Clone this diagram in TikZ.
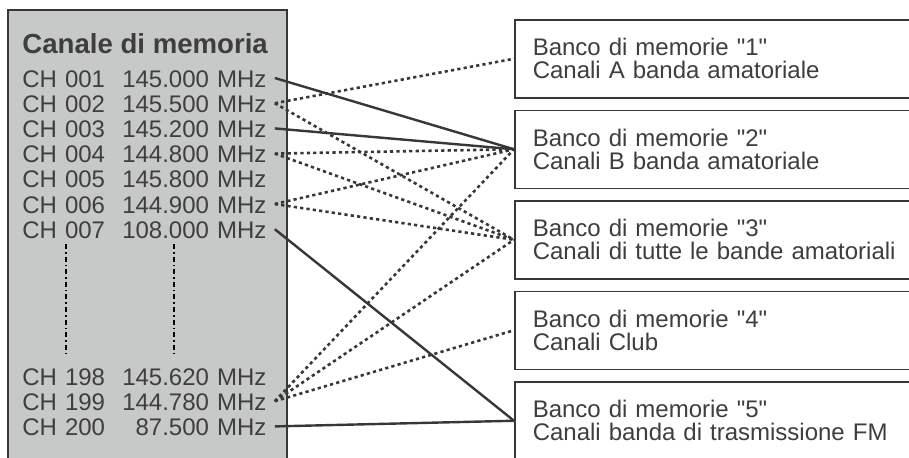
\documentclass[tikz,border=0pt]{standalone}
\usepackage{fontspec}
\setmainfont{Liberation Sans}[Ligatures=TeXOff]
\usepackage{tikz}
\usetikzlibrary{positioning}
\definecolor{mmgray}{RGB}{199,200,200}
\definecolor{mmtext}{RGB}{62,62,62}
\definecolor{mmline}{RGB}{55,55,55}
\tikzstyle{panel} = [draw=mmline, fill=mmgray, line width=1pt]
\tikzstyle{paneltitle} = [inner sep=0pt, text=mmtext, font=\fontsize{13.8}{14}\selectfont\bfseries]
\tikzstyle{chrow} = [rectangle, inner xsep=4pt, inner ysep=0pt, text width=122pt, text height=9pt, text depth=0pt, text=mmtext, font=\fontsize{12}{12}\selectfont]
\tikzstyle{bankbox} = [rectangle, draw=mmline, fill=white, line width=0.75pt, minimum height=39pt, text width=192pt, inner xsep=9pt, align=left, text=mmtext, font=\fontsize{12}{11.5}\selectfont]
\tikzstyle{solidlink} = [line width=1.2pt, color=mmline]
\tikzstyle{dotlink} = [line width=1.3pt, dash pattern=on 1.6pt off 1.6pt, color=mmline]
\tikzstyle{vdash} = [line width=1pt, dash pattern=on 2.5pt off 1.5pt on 0.8pt off 1.5pt, color=black]

\begin{document}
\begin{tikzpicture}[x=0.5pt, y=-0.5pt]
\useasboundingbox (0,0) rectangle (909,457);
\clip (0,0) rectangle (909,457);

% Memory channel panel
\draw[panel] (8,10) rectangle (287,470);
\node[paneltitle, anchor=base west] (title) at (22,53) {Canale di memoria};

% Channel rows
\node[chrow, anchor=base west] (row001) at (14,87) {CH 001\hfill 145.000 MHz};
\node[chrow, below=3.2pt of row001] (row002) {CH 002\hfill 145.500 MHz};
\node[chrow, below=3.2pt of row002] (row003) {CH 003\hfill 145.200 MHz};
\node[chrow, below=3.2pt of row003] (row004) {CH 004\hfill 144.800 MHz};
\node[chrow, below=3.2pt of row004] (row005) {CH 005\hfill 145.800 MHz};
\node[chrow, below=3.2pt of row005] (row006) {CH 006\hfill 144.900 MHz};
\node[chrow, below=3.2pt of row006] (row007) {CH 007\hfill 108.000 MHz};

\node[chrow, anchor=base west] (row198) at (14,385) {CH 198\hfill 145.620 MHz};
\node[chrow, below=3.2pt of row198] (row199) {CH 199\hfill 144.780 MHz};
\node[chrow, below=3.2pt of row199] (row200) {CH 200\hfill 87.500 MHz};

% Skipped channels
\draw[vdash] (66,244) -- (66,356);
\draw[vdash] (174,244) -- (174,356);

% Memory banks
\node[bankbox, anchor=north west] (bank1) at (514,19) {Banco di memorie "1"\\Canali A banda amatoriale};
\node[bankbox, below=5.5pt of bank1] (bank2) {Banco di memorie "2"\\Canali B banda amatoriale};
\node[bankbox, below=5.5pt of bank2] (bank3) {Banco di memorie "3"\\Canali di tutte le bande amatoriali};
\node[bankbox, below=5.5pt of bank3] (bank4) {Banco di memorie "4"\\Canali Club};
\node[bankbox, below=5.5pt of bank4] (bank5) {Banco di memorie "5"\\Canali banda di trasmissione FM};

% Links
\draw[solidlink] (row001.east) -- (bank2.west);
\draw[solidlink] (row003.east) -- (bank2.west);
\draw[solidlink] (row007.east) -- (bank5.west);
\draw[solidlink] (row200.east) -- (bank5.west);

\draw[dotlink] (row002.east) -- (bank1.west);
\draw[dotlink] (row002.east) -- (bank3.west);
\draw[dotlink] (row004.east) -- (bank2.west);
\draw[dotlink] (row004.east) -- (bank3.west);
\draw[dotlink] (row006.east) -- (bank2.west);
\draw[dotlink] (row006.east) -- (bank3.west);
\draw[dotlink] (row199.east) -- (bank2.west);
\draw[dotlink] (row199.east) -- (bank3.west);
\draw[dotlink] (row199.east) -- (bank4.west);
\end{tikzpicture}
\end{document}
